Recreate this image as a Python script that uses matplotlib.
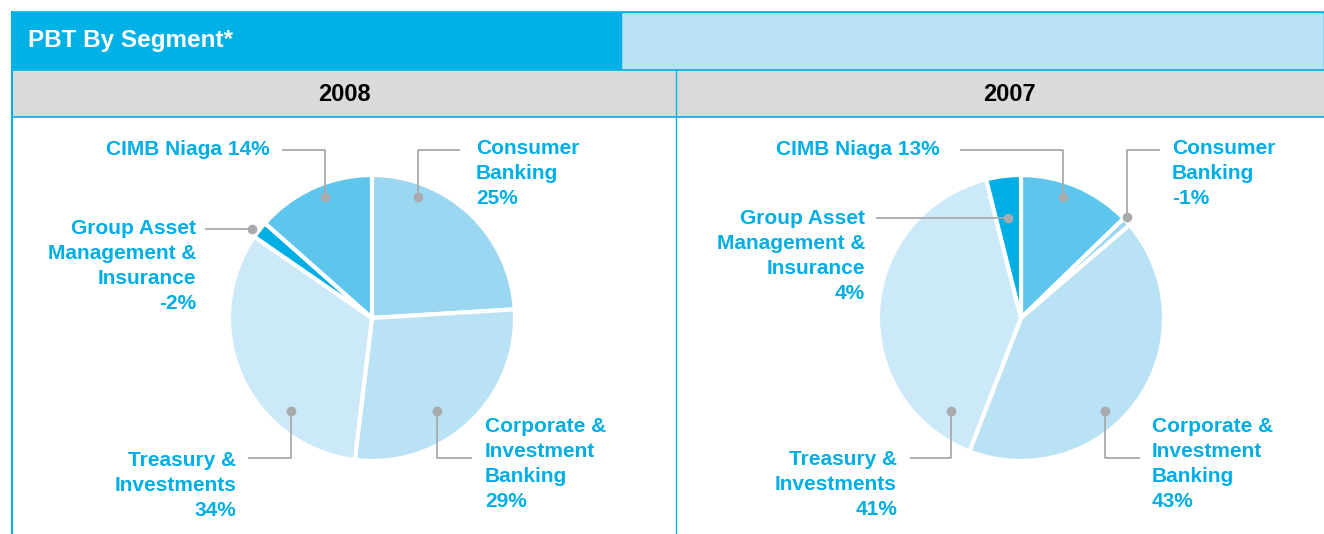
import matplotlib.pyplot as plt
from matplotlib.patches import Rectangle

plt.rcParams['font.family'] = ['Liberation Sans', 'DejaVu Sans']

W, H = 1324, 534

# Data (pie uses absolute sizes, labels show signed values)
seg_2008 = ['Consumer Banking', 'Corporate & Investment Banking', 'Treasury & Investments',
            'Group Asset Management & Insurance', 'CIMB Niaga']
val_2008 = [25, 29, 34, -2, 14]
col_2008 = ['#9bd7f1', '#b9e2f4', '#cbe9f8', '#00aee6', '#5ec6ec']

seg_2007 = ['CIMB Niaga', 'Consumer Banking', 'Corporate & Investment Banking',
            'Treasury & Investments', 'Group Asset Management & Insurance']
val_2007 = [13, -1, 43, 41, 4]
col_2007 = ['#5ec6ec', '#9bd7f1', '#b9e2f4', '#cbe9f8', '#00aee6']

BLUE = '#00b1e6'
TXT = '#00aee6'
GREY = '#a8aaad'

fig = plt.figure(figsize=(W / 100, H / 100), dpi=100)
ax = fig.add_axes([0, 0, 1, 1])


def Y(y):
    return H - y


# frame / header
ax.add_patch(Rectangle((12, Y(70)), 609, 58, fc=BLUE, ec='none'))
ax.add_patch(Rectangle((621, Y(70)), W - 621, 58, fc='#b9e1f4', ec=BLUE, lw=1))
ax.add_patch(Rectangle((12, Y(117)), W - 12, 47, fc='#d9dadc', ec='none'))
ax.plot([12, W], [Y(12), Y(12)], color=BLUE, lw=1.2)
ax.plot([12, W], [Y(70), Y(70)], color=BLUE, lw=1.2)
ax.plot([12, W], [Y(117), Y(117)], color=BLUE, lw=1.2)
ax.plot([12, 12], [Y(12), 0], color=BLUE, lw=1.5)
ax.plot([676, 676], [Y(70), 0], color=BLUE, lw=1)
ax.text(28, Y(47), 'PBT By Segment*', color='white', fontsize=17.5, fontweight='bold',
        va='baseline', ha='left')
ax.text(344, Y(101), '2008', color='black', fontsize=17, fontweight='bold', va='baseline', ha='center')
ax.text(1009, Y(101), '2007', color='black', fontsize=17, fontweight='bold', va='baseline', ha='center')

# pies
R = 143
ax.pie([abs(v) for v in val_2008], colors=col_2008, startangle=90, counterclock=False,
       center=(372, Y(318)), radius=R, frame=True,
       wedgeprops=dict(edgecolor='white', linewidth=3))
ax.pie([abs(v) for v in val_2007], colors=col_2007, startangle=90, counterclock=False,
       center=(1021, Y(318)), radius=R, frame=True,
       wedgeprops=dict(edgecolor='white', linewidth=3))


def leader(pts, dot):
    xs = [p[0] for p in pts]
    ys = [Y(p[1]) for p in pts]
    ax.plot(xs, ys, color=GREY, lw=1.3, solid_capstyle='butt')
    ax.plot(dot[0], Y(dot[1]), 'o', color=GREY, ms=7, mec='none')


def label(x, y, s, ha):
    # y is the baseline of the last line
    ax.text(x, Y(y), s, color=TXT, fontsize=15, fontweight='bold', ha=ha, va='baseline',
            linespacing=1.41, multialignment=ha)


def pct(v):
    return f'{v}%'


# 2008 labels
label(270, 155, f'CIMB Niaga {pct(val_2008[4])}', 'right')
leader([(282, 150), (325, 150), (325, 197)], (325, 197))
label(476, 204, f'Consumer\nBanking\n{pct(val_2008[0])}', 'left')
leader([(460, 150), (418, 150), (418, 197)], (418, 197))
label(196, 309, f'Group Asset\nManagement &\nInsurance\n{pct(val_2008[3])}', 'right')
leader([(205, 229), (252, 229)], (252, 229))
label(236, 516, f'Treasury &\nInvestments\n{pct(val_2008[2])}', 'right')
leader([(248, 458), (291, 458), (291, 411)], (291, 411))
label(485, 507, f'Corporate &\nInvestment\nBanking\n{pct(val_2008[1])}', 'left')
leader([(472, 458), (437, 458), (437, 411)], (437, 411))

# 2007 labels
label(940, 155, f'CIMB Niaga {pct(val_2007[0])}', 'right')
leader([(960, 150), (1063, 150), (1063, 197)], (1063, 197))
label(1172, 204, f'Consumer\nBanking\n{pct(val_2007[1])}', 'left')
leader([(1160, 150), (1127, 150), (1127, 217)], (1127, 217))
label(865, 299, f'Group Asset\nManagement &\nInsurance\n{pct(val_2007[4])}', 'right')
leader([(876, 218), (1008, 218)], (1008, 218))
label(897, 515, f'Treasury &\nInvestments\n{pct(val_2007[3])}', 'right')
leader([(910, 458), (951, 458), (951, 411)], (951, 411))
label(1152, 507, f'Corporate &\nInvestment\nBanking\n{pct(val_2007[2])}', 'left')
leader([(1140, 458), (1105, 458), (1105, 411)], (1105, 411))

ax.set_xlim(0, W)
ax.set_ylim(0, H)
ax.set_aspect('auto')
ax.axis('off')

fig.savefig('out.png', dpi=100)
